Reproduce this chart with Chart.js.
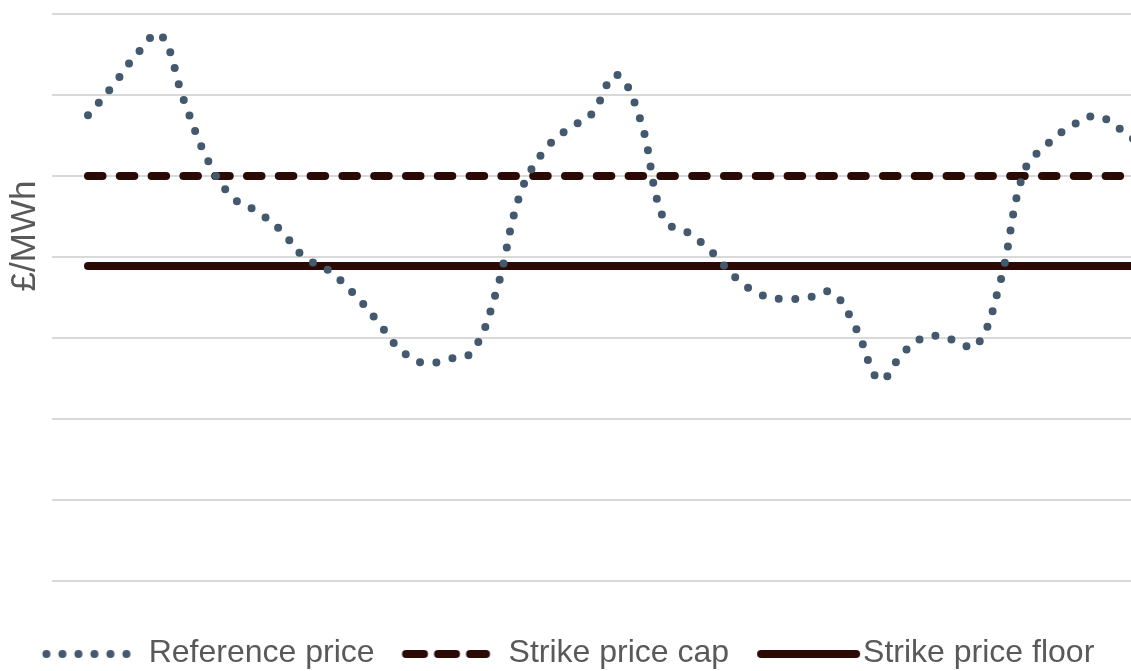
<!DOCTYPE html>
<html>
<head>
<meta charset="utf-8">
<script src="https://cdn.jsdelivr.net/npm/chart.js@4.4.1/dist/chart.umd.min.js"></script>
<style>
  html, body { margin: 0; padding: 0; background: #ffffff; overflow: hidden; }
  #wrap { position: relative; width: 1131px; height: 671px; overflow: hidden; }
  #chart { position: absolute; left: -14px; top: 0; }
</style>
</head>
<body>
<div id="wrap"><canvas id="chart" width="1145" height="679"></canvas></div>
<script>
// Monthly periods (index along the horizontal axis)
const periods = [0, 1, 2, 3, 4, 5, 6, 7, 8, 9, 10, 11, 12, 13, 14, 15, 16, 17, 18, 19, 20, 21,
                 22, 23, 24, 25, 26, 27, 28, 29, 30, 31, 32, 33, 34, 35, 36, 37, 38, 39, 40, 41, 42, 43, 44];

// Reference price, £/MWh
const referencePrice = [57.5, 61.0, 64.9, 67.5, 59.3, 51.9, 47.4, 45.7, 43.4, 40.0, 38.4, 35.7,
                        32.3, 28.6, 26.9, 27.4, 28.3, 35.6, 47.7, 53.1, 55.8, 57.7, 62.5, 57.1,
                        44.6, 43.0, 40.6, 37.4, 35.4, 34.8, 35.0, 35.6, 31.2, 24.8, 28.3, 30.2,
                        29.8, 29.0, 36.8, 50.5, 54.0, 56.2, 57.4, 55.8, 53.5];

// Strike price band, £/MWh
const strikePriceCap = periods.map(() => 50);
const strikePriceFloor = periods.map(() => 38.9);

// Value axis
const yTicks = [0, 10, 20, 30, 40, 50, 60, 70];

const seriesNames = ['Reference price', 'Strike price cap', 'Strike price floor'];

const REF_COLOR = '#44596d';
const STRIKE_COLOR = '#2b0a05';
const TEXT_COLOR = '#595959';
const FONT = '"Liberation Sans", Arial, sans-serif';

function toPoints(values) {
  return values.map((v, i) => ({ x: periods[i], y: v }));
}

// Legend samples drawn as small canvases
function legendSample(kind) {
  const c = document.createElement('canvas');
  c.width = 180; c.height = 20;
  const g = c.getContext('2d');
  const cy = 11;
  if (kind === 'dots') {
    g.fillStyle = REF_COLOR;
    for (let k = 0; k < 6; k++) {
      g.beginPath();
      g.arc(58.7 + 16 * k, cy, 4, 0, Math.PI * 2);
      g.fill();
    }
  } else if (kind === 'dash') {
    g.strokeStyle = STRIKE_COLOR; g.lineWidth = 8; g.lineCap = 'round';
    [[58.4, 76.4], [90.4, 108.4], [122.4, 138.4]].forEach(([a, b]) => {
      g.beginPath(); g.moveTo(a, cy); g.lineTo(b, cy); g.stroke();
    });
  } else {
    g.strokeStyle = STRIKE_COLOR; g.lineWidth = 8; g.lineCap = 'round';
    g.beginPath(); g.moveTo(59, cy); g.lineTo(154, cy); g.stroke();
  }
  return c;
}
const samples = [legendSample('dots'), legendSample('dash'), legendSample('solid')];

// Rotated unit label on the value axis
const unitLabel = {
  id: 'unitLabel',
  afterDraw(chart) {
    const ctx = chart.ctx;
    ctx.save();
    ctx.translate(39, 236);
    ctx.rotate(-Math.PI / 2);
    ctx.font = '35px ' + FONT;
    ctx.fillStyle = TEXT_COLOR;
    ctx.textAlign = 'center';
    ctx.textBaseline = 'middle';
    ctx.fillText('£/MWh', 0, 0);
    ctx.restore();
  }
};

new Chart(document.getElementById('chart'), {
  type: 'line',
  data: {
    datasets: [
      {
        label: seriesNames[0],
        data: toPoints(referencePrice),
        borderColor: REF_COLOR,
        borderWidth: 8,
        borderDash: [0, 16.5],
        borderCapStyle: 'round',
        tension: 0.4,
        pointRadius: 0,
        fill: false
      },
      {
        label: seriesNames[1],
        data: toPoints(strikePriceCap),
        borderColor: STRIKE_COLOR,
        borderWidth: 8,
        borderDash: [14.5, 17.3],
        borderCapStyle: 'round',
        pointRadius: 0,
        fill: false
      },
      {
        label: seriesNames[2],
        data: toPoints(strikePriceFloor),
        borderColor: STRIKE_COLOR,
        borderWidth: 8,
        borderCapStyle: 'round',
        pointRadius: 0,
        fill: false
      }
    ]
  },
  options: {
    responsive: false,
    animation: false,
    devicePixelRatio: 1,
    events: [],
    layout: { padding: { top: 14, right: 0, bottom: 0, left: 0 } },
    scales: {
      x: {
        type: 'linear',
        min: -1.5,
        max: 43.46,
        grid: { display: false },
        border: { display: false },
        ticks: { display: false },
        afterFit(scale) { scale.height = 48; }
      },
      y: {
        min: yTicks[0],
        max: yTicks[yTicks.length - 1],
        afterBuildTicks(scale) { scale.ticks = yTicks.map(v => ({ value: v })); },
        grid: { color: '#d9d9d9', lineWidth: 2, drawTicks: false },
        border: { display: false },
        ticks: { display: false },
        afterFit(scale) { scale.width = 66; }
      }
    },
    plugins: {
      tooltip: { enabled: false },
      legend: {
        position: 'bottom',
        labels: {
          usePointStyle: true,
          pointStyleWidth: 110,
          padding: 8,
          color: TEXT_COLOR,
          font: { size: 32, family: FONT },
          generateLabels(chart) {
            return chart.data.datasets.map((ds, i) => ({
              text: ds.label,
              pointStyle: samples[i],
              fillStyle: 'transparent',
              strokeStyle: 'transparent',
              lineWidth: 0,
              fontColor: TEXT_COLOR,
              hidden: false,
              datasetIndex: i
            }));
          }
        }
      }
    }
  },
  plugins: [unitLabel]
});
</script>
</body>
</html>
